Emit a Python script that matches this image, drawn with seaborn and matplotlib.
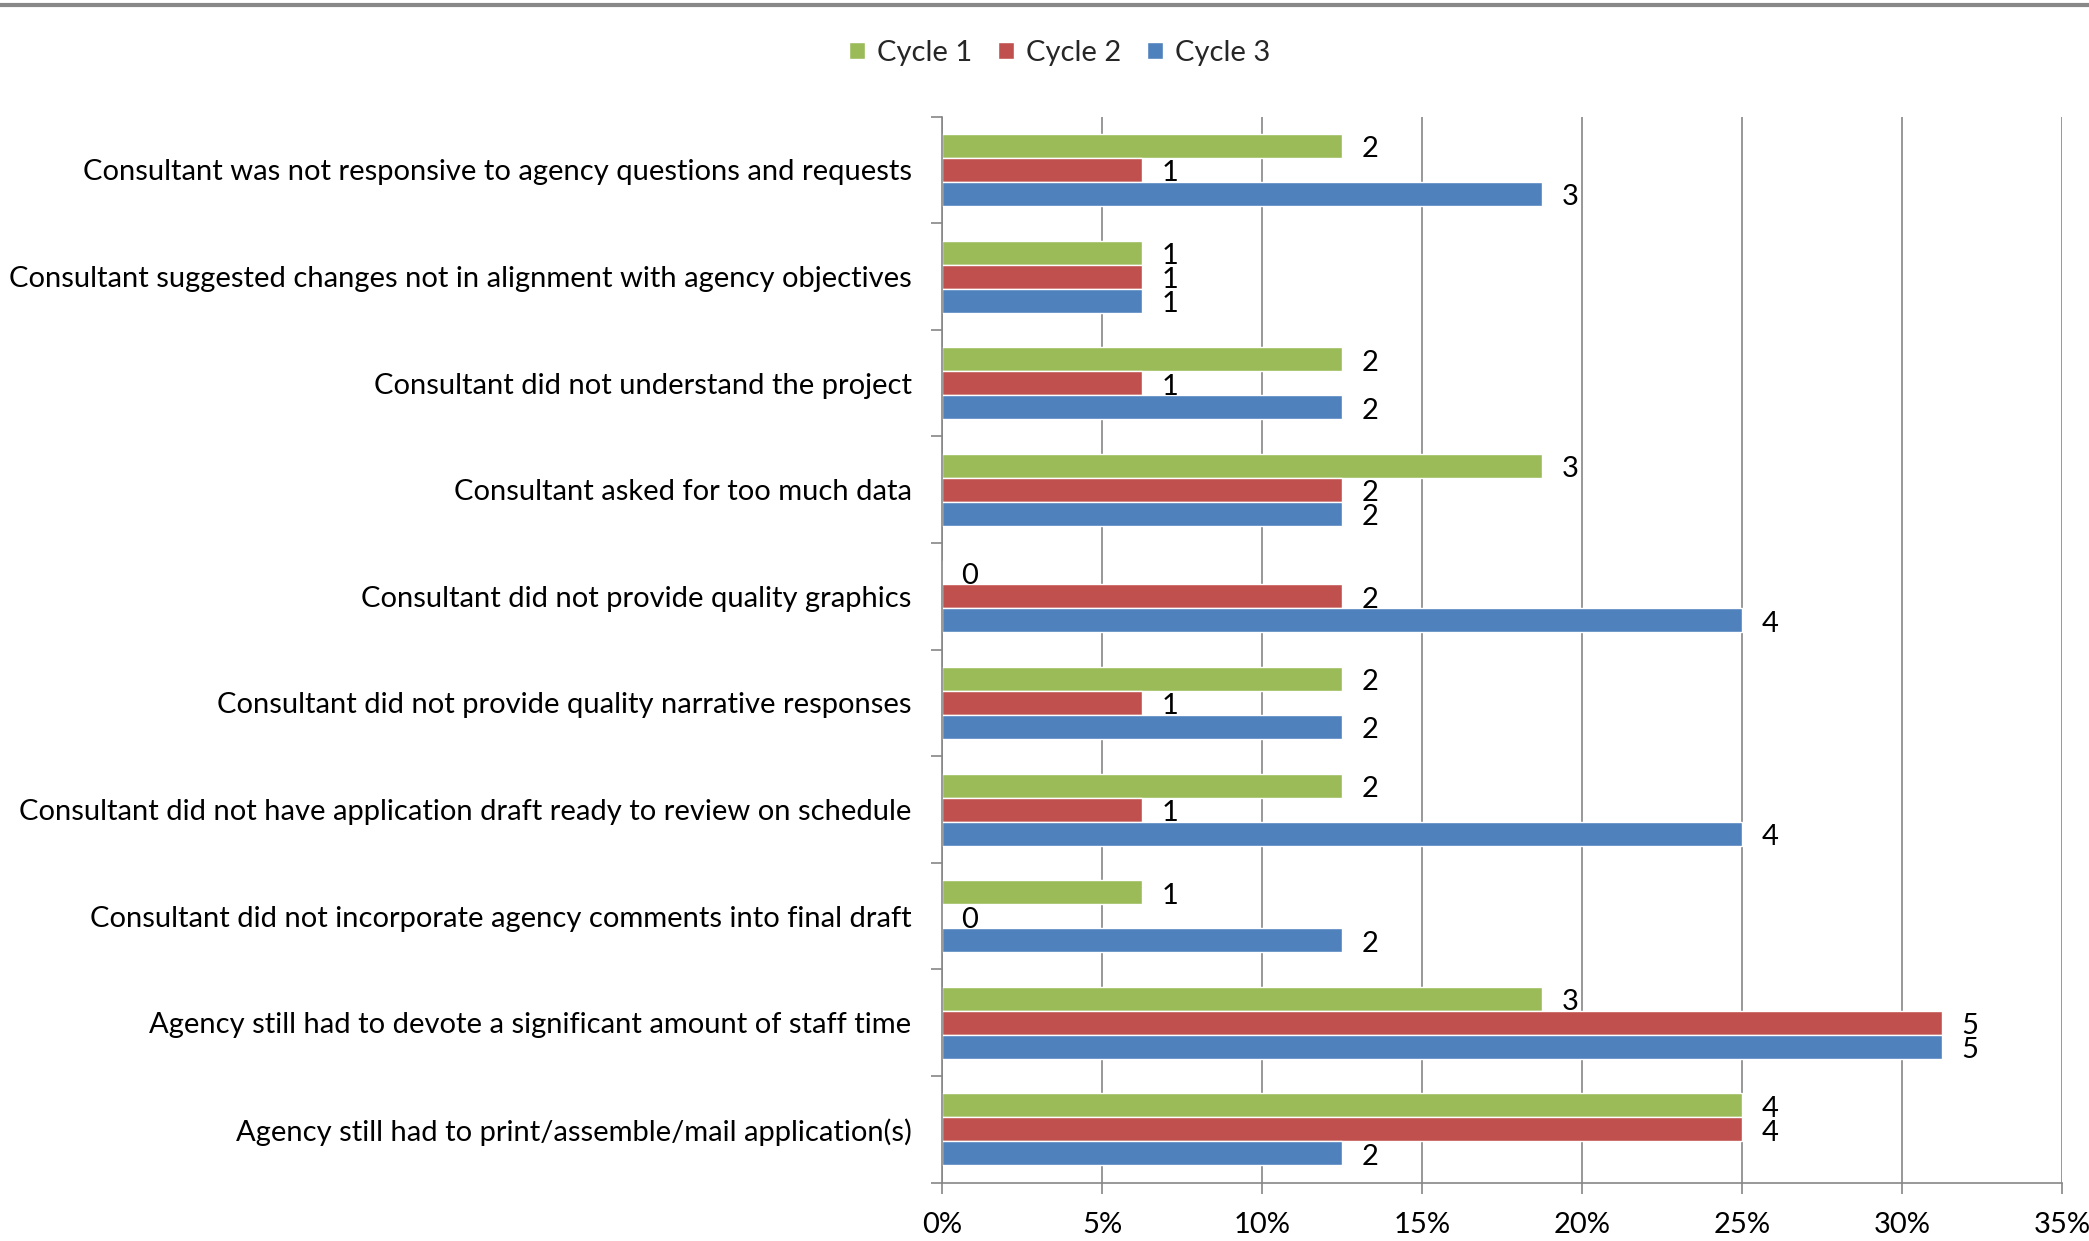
import numpy as np
import pandas as pd
import seaborn as sns
import matplotlib as mpl
import matplotlib.pyplot as plt
from matplotlib.ticker import PercentFormatter, FixedLocator

categories = [
    "Consultant was not responsive to agency questions and requests",
    "Consultant suggested changes not in alignment with agency objectives",
    "Consultant did not understand the project",
    "Consultant asked for too much data",
    "Consultant did not provide quality graphics",
    "Consultant did not provide quality narrative responses",
    "Consultant did not have application draft ready to review on schedule",
    "Consultant did not incorporate agency comments into final draft",
    "Agency still had to devote a significant amount of staff time",
    "Agency still had to print/assemble/mail application(s)",
]
cycle_1 = [2, 1, 2, 3, 0, 2, 2, 1, 3, 4]
cycle_2 = [1, 1, 1, 2, 2, 1, 1, 0, 5, 4]
cycle_3 = [3, 1, 2, 2, 4, 2, 4, 2, 5, 2]
respondents = 16
series = ["Cycle 1", "Cycle 2", "Cycle 3"]
colors = ["#9BBB59", "#C0504D", "#4F81BD"]

rows = []
for name, vals in zip(series, [cycle_1, cycle_2, cycle_3]):
    for cat, v in zip(categories, vals):
        rows.append({"category": cat, "cycle": name, "count": v, "share": v / respondents})
df = pd.DataFrame(rows)

sns.set_theme(style="white")
plt.rcParams['font.family'] = ['Lato', 'DejaVu Sans']
fs = 21

fig = plt.figure(figsize=(20.89, 12.41), dpi=100)
ax = fig.add_axes([0.451, 0.047, 0.536, 0.859])

sns.barplot(data=df, y="category", x="share", hue="cycle", hue_order=series, palette=colors,
            orient="h", width=0.675, ax=ax, saturation=1, legend=True)

# count labels just right of each bar, nudged slightly down like the original
for cont, name in zip(ax.containers, series):
    counts = df.loc[df.cycle == name, "count"].values
    texts = ax.bar_label(cont, labels=[str(c) for c in counts], padding=14, fontsize=fs, color="black")
    for t in texts:
        t.xyann = (14, -2.5)

ax.set_xlim(0, 0.35)
ax.set_ylim(9.5, -0.5)
ax.xaxis.set_major_locator(FixedLocator(np.arange(0, 0.351, 0.05)))
ax.xaxis.set_major_formatter(PercentFormatter(xmax=1, decimals=0))
ax.grid(axis="x", color="#868686", linewidth=1.2)
ax.grid(axis="y", visible=False)
ax.set_axisbelow(True)

ax.set_yticks(range(len(categories)))
ax.set_yticks(np.arange(-0.5, 10, 1), minor=True)
ax.tick_params(axis="y", which="major", length=0, pad=22, labelsize=fs, labelcolor="black")
ax.tick_params(axis="y", which="minor", length=8, width=1.2, color="#868686", direction="out", left=True)
ax.tick_params(axis="x", which="major", length=8, width=1.2, color="#868686", direction="out",
               bottom=True, pad=13, labelsize=fs, labelcolor="black")

ax.set_xlabel("")
ax.set_ylabel("")
for side in ["top", "right"]:
    ax.spines[side].set_visible(False)
for side in ["left", "bottom"]:
    ax.spines[side].set_color("#868686")
    ax.spines[side].set_linewidth(1.2)

ax.legend(loc="center", bbox_to_anchor=(0.105, 1.06), ncol=3, frameon=False, fontsize=fs,
          handlelength=0.55, handleheight=0.55, handletextpad=0.4, columnspacing=0.9)

fig.add_artist(mpl.lines.Line2D([0, 1], [0.996, 0.996], color="#888888", linewidth=3,
                                transform=fig.transFigure))

fig.savefig("out.png", dpi=100)
